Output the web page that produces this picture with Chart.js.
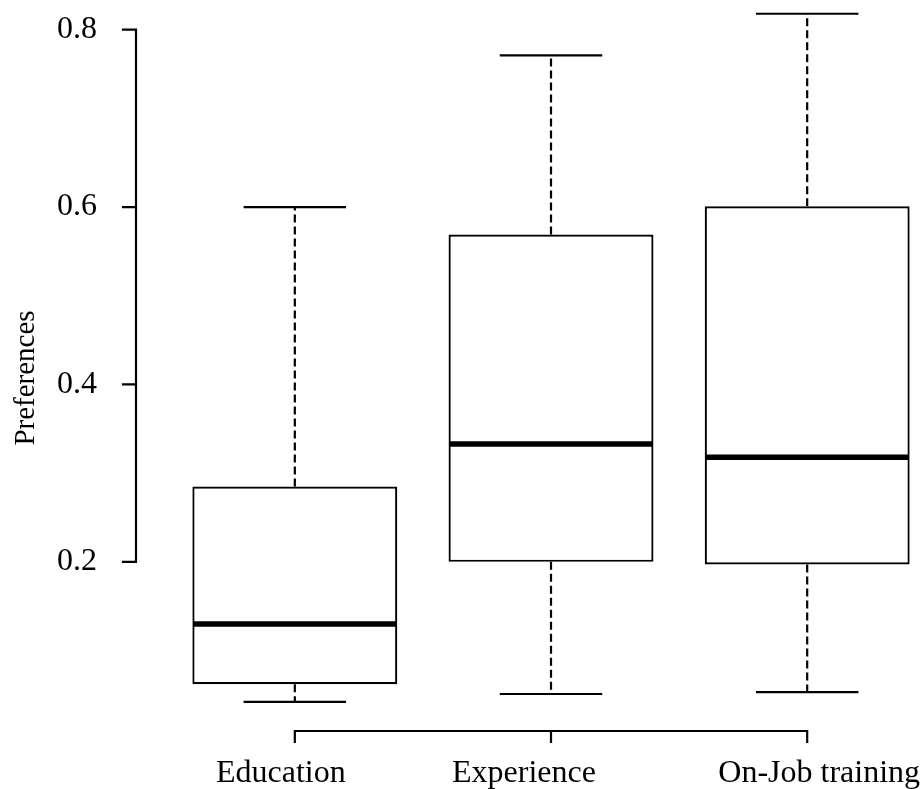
<!DOCTYPE html>
<html>
<head>
<meta charset="utf-8">
<script src="https://cdn.jsdelivr.net/npm/chart.js@4/dist/chart.umd.min.js"></script>
<style>
  html, body { margin: 0; padding: 0; background: #ffffff; }
  canvas { display: block; }
</style>
</head>
<body>
<canvas id="chart" width="924" height="789"></canvas>
<script>
// Box-plot summary statistics per training category
const categories   = ['Education', 'Experience', 'On-Job training'];
const positions    = [1, 2, 3];
const whiskerLow   = [0.042, 0.051, 0.053];
const lowerQuart   = [0.062, 0.200, 0.197];
const medians      = [0.130, 0.333, 0.318];
const upperQuart   = [0.285, 0.569, 0.601];
const whiskerHigh  = [0.600, 0.771, 0.818];
const yTickValues  = [0.2, 0.4, 0.6, 0.8];
const yAxisTitle   = 'Preferences';

// Styling
const SERIF = '"Liberation Serif", "Times New Roman", serif';
const INK = '#000000';
const LINE = 2.2;
const CATEGORY_LABEL_SHIFT = [-14, -27, 12]; // horizontal label nudges, px

// Whiskers, staples and median bars drawn on top of the boxes
const boxPartsPlugin = {
  id: 'boxParts',
  afterDatasetsDraw(chart) {
    const { ctx, scales: { x, y } } = chart;
    const bars = chart.getDatasetMeta(0).data;
    ctx.save();
    ctx.strokeStyle = INK;
    positions.forEach((p, i) => {
      const cx = x.getPixelForValue(p);
      const half = bars[i].width / 2;
      const staple = half / 2;
      // dashed whiskers
      ctx.lineWidth = LINE;
      ctx.setLineDash([8, 4]);
      ctx.beginPath();
      ctx.moveTo(cx, y.getPixelForValue(upperQuart[i]));
      ctx.lineTo(cx, y.getPixelForValue(whiskerHigh[i]));
      ctx.moveTo(cx, y.getPixelForValue(lowerQuart[i]));
      ctx.lineTo(cx, y.getPixelForValue(whiskerLow[i]));
      ctx.stroke();
      // staples
      ctx.setLineDash([]);
      ctx.beginPath();
      const yh = y.getPixelForValue(whiskerHigh[i]);
      const yl = y.getPixelForValue(whiskerLow[i]);
      ctx.moveTo(cx - staple, yh); ctx.lineTo(cx + staple, yh);
      ctx.moveTo(cx - staple, yl); ctx.lineTo(cx + staple, yl);
      ctx.stroke();
      // median
      ctx.lineWidth = 5.5;
      ctx.lineCap = 'butt';
      ctx.beginPath();
      const ym = y.getPixelForValue(medians[i]);
      ctx.moveTo(cx - half + 1, ym); ctx.lineTo(cx + half - 1, ym);
      ctx.stroke();
    });
    ctx.restore();
  }
};

// Axis lines spanning only the tick range, outward tick marks, labels and title
const frameAxesPlugin = {
  id: 'frameAxes',
  afterDraw(chart) {
    const { ctx, chartArea, scales: { x, y } } = chart;
    ctx.save();
    ctx.strokeStyle = INK;
    ctx.lineWidth = LINE;
    ctx.lineCap = 'square';
    // y axis
    const ax = chartArea.left;
    ctx.beginPath();
    ctx.moveTo(ax, y.getPixelForValue(yTickValues[0]));
    ctx.lineTo(ax, y.getPixelForValue(yTickValues[yTickValues.length - 1]));
    yTickValues.forEach(v => {
      const py = y.getPixelForValue(v);
      ctx.moveTo(ax, py); ctx.lineTo(ax - 13, py);
    });
    ctx.stroke();
    // x axis
    const ay = chartArea.bottom + 1;
    ctx.beginPath();
    ctx.moveTo(x.getPixelForValue(positions[0]), ay);
    ctx.lineTo(x.getPixelForValue(positions[positions.length - 1]), ay);
    positions.forEach(p => {
      const px = x.getPixelForValue(p);
      ctx.moveTo(px, ay); ctx.lineTo(px, ay + 11);
    });
    ctx.stroke();
    // category labels
    ctx.fillStyle = INK;
    ctx.font = '32px ' + SERIF;
    ctx.textAlign = 'center';
    ctx.textBaseline = 'alphabetic';
    positions.forEach((p, i) => {
      ctx.fillText(categories[i], x.getPixelForValue(p) + CATEGORY_LABEL_SHIFT[i], ay + 51);
    });
    // y axis title
    ctx.font = '29px ' + SERIF;
    ctx.translate(34, 378);
    ctx.rotate(-Math.PI / 2);
    ctx.fillText(yAxisTitle, 0, 0);
    ctx.restore();
  }
};

new Chart(document.getElementById('chart'), {
  type: 'bar',
  data: {
    datasets: [{
      data: positions.map((p, i) => ({ x: p, y: [lowerQuart[i], upperQuart[i]] })),
      backgroundColor: '#ffffff',
      borderColor: INK,
      borderWidth: LINE,
      borderSkipped: false,
      barPercentage: 1,
      categoryPercentage: 0.8
    }]
  },
  options: {
    responsive: false,
    animation: false,
    devicePixelRatio: 1,
    layout: { padding: 0 },
    plugins: { legend: { display: false }, tooltip: { enabled: false } },
    scales: {
      x: {
        type: 'linear',
        offset: false,
        min: 0.38,
        max: 3.456,
        grid: { display: false, drawTicks: false, offset: false },
        border: { display: false },
        afterBuildTicks: s => { s.ticks = positions.map(v => ({ value: v })); },
        afterFit: s => { s.height = 59; s.paddingLeft = 0; s.paddingRight = 0; },
        ticks: { display: false }
      },
      y: {
        min: 0.0104,
        max: 0.8335,
        grid: { display: false, drawTicks: false },
        border: { display: false },
        afterBuildTicks: s => { s.ticks = yTickValues.map(v => ({ value: v })); },
        afterFit: s => { s.width = 136; s.paddingTop = 0; s.paddingBottom = 0; },
        ticks: {
          padding: 39,
          color: INK,
          font: { family: SERIF, size: 32 },
          callback: v => v.toFixed(1)
        }
      }
    }
  },
  plugins: [boxPartsPlugin, frameAxesPlugin]
});
</script>
</body>
</html>
